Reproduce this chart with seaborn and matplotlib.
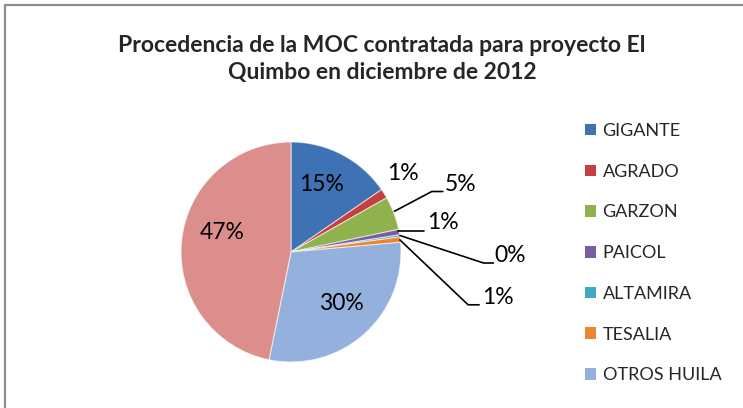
import matplotlib
matplotlib.use("Agg")
import matplotlib.pyplot as plt
from matplotlib.patches import Patch, Rectangle
import seaborn as sns

sns.set_theme(style="white")
plt.rcParams['font.family'] = ['Lato', 'DejaVu Sans']

# datos (porcentaje de la MOC por procedencia)
municipios = ['GIGANTE', 'AGRADO', 'GARZON', 'PAICOL', 'ALTAMIRA', 'TESALIA',
              'OTROS HUILA', 'OTROS DEPARTAMENTOS']
porcentajes = [15.4, 1.4, 4.9, 0.8, 0.3, 0.8, 29.6, 46.8]
colores = ['#3F72B5', '#C4403F', '#8FB24C', '#7A5CA0', '#3FA9C4', '#EC8530',
           '#93B1DC', '#DC8E8C']
titulo = 'Procedencia de la MOC contratada para proyecto El\nQuimbo en diciembre de 2012'
n_leyenda = 7

# posiciones de las etiquetas: texto, y guia (inicio, codo, fin) si la hay
pos_etq = [
    ((0.28, 0.61), None),
    ((1.02, 0.71), None),
    ((1.40, 0.61), [(0.94, 0.37), (1.28, 0.55), (1.38, 0.55)]),
    ((1.24, 0.27), [(0.97, 0.19), (1.21, 0.19)]),
    ((1.85, -0.03), [(0.99, 0.15), (1.75, -0.10), (1.84, -0.10)]),
    ((1.74, -0.41), [(0.99, 0.11), (1.61, -0.48), (1.71, -0.48)]),
    ((0.46, -0.47), None),
    ((-0.63, 0.18), None),
]

fig = plt.figure(figsize=(7.43, 4.08), dpi=100)
fig.patches.append(Rectangle((4.5 / 743, -0.05), 1.2, 1 - 5.5 / 408 + 0.05,
                             transform=fig.transFigure, fill=False,
                             edgecolor='#8C8C8C', linewidth=1.6))

ax = fig.add_axes([181 / 743, 46 / 408, 220 / 743, 220 / 408])
ax.pie(porcentajes, colors=colores, startangle=90, counterclock=False,
       wedgeprops=dict(edgecolor=(1, 1, 1, 0.6), linewidth=0.8))
ax.set_xlim(-1, 1)
ax.set_ylim(-1, 1)
ax.set_aspect('equal')

for v, (txt, guia) in zip(porcentajes, pos_etq):
    etq = f'{round(v)}%'
    if guia is None:
        ax.text(txt[0], txt[1], etq, ha='center', va='center', fontsize=16.5,
                color='black', clip_on=False)
    else:
        ax.text(txt[0], txt[1], etq, ha='left', va='center', fontsize=16.5,
                color='black', clip_on=False)
        ax.plot([p[0] for p in guia], [p[1] for p in guia], color='black',
                lw=1.2, clip_on=False)

fig.text(0.514, 0.855, titulo, ha='center', va='center', fontsize=16.5,
         fontweight='bold', linespacing=1.32)

handles = [Patch(facecolor=c, edgecolor='none') for c in colores[:n_leyenda]]
fig.legend(handles, municipios[:n_leyenda], loc='upper left',
           bbox_to_anchor=(585 / 743, 1 - 123 / 408), frameon=False,
           fontsize=13, handlelength=0.62, handleheight=0.62,
           handletextpad=0.35, labelspacing=1.37, borderpad=0, borderaxespad=0)

fig.savefig('out.png', dpi=100, facecolor='white')
